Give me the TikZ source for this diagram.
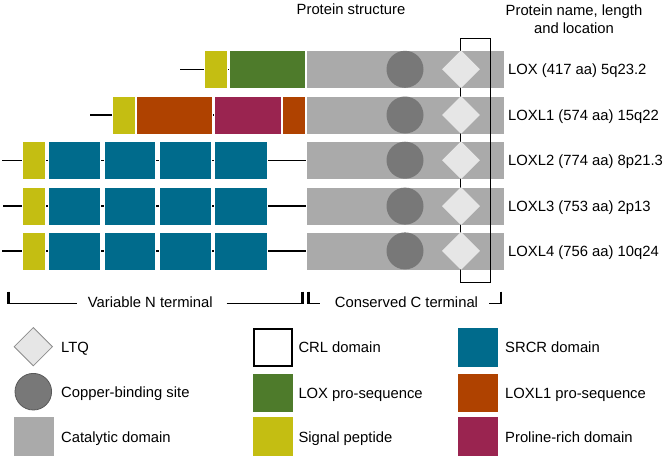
\documentclass[tikz,border=0pt]{standalone}
\usepackage{fontspec}
\setmainfont{Liberation Sans}
\usetikzlibrary{shapes.geometric}
\definecolor{sigY}{RGB}{196,190,18}
\definecolor{loxG}{RGB}{78,123,43}
\definecolor{loxlO}{RGB}{175,66,0}
\definecolor{proM}{RGB}{154,36,80}
\definecolor{srcrT}{RGB}{0,107,140}
\definecolor{catG}{RGB}{170,170,170}
\definecolor{cuG}{RGB}{120,120,120}
\definecolor{ltqG}{RGB}{230,230,230}
\begin{document}
\begin{tikzpicture}[x=1pt,y=-1pt,
  dom/.style={rectangle, inner sep=0pt, minimum height=38pt, draw=white, line width=0.6pt},
  txt/.style={font=\fontsize{14.8}{18}\selectfont, inner sep=0pt, text=black},
  lbl/.style={txt, anchor=base west},
  backbone/.style={line width=1.4pt, black},
  cu/.style={circle, fill=cuG, minimum size=37pt, inner sep=0pt},
  ltq/.style={diamond, fill=ltqG, minimum width=38pt, minimum height=38pt, inner sep=0pt},
  legbox/.style={rectangle, inner sep=0pt, minimum width=40pt, minimum height=38.5pt},
  brk/.style={line width=1.3pt, black},
  tick/.style={line width=2.4pt, black}
]
\useasboundingbox (0,0) rectangle (665,458);

% headers
\node[txt, anchor=base] (hs) at (351,14.5) {Protein structure};
\node[txt, anchor=north, align=center] (hn) at (574,4.4) {Protein name, length\\and location};

% row 1: LOX
\coordinate (s1) at (180,69.3);
\node[dom, fill=catG, minimum width=198pt] (cat1) at (405,69.3) {};
\draw[backbone] (s1) -- (cat1.west);
\node[dom, fill=sigY, minimum width=23pt] (sig1) at (215.5,69.3) {};
\node[dom, fill=loxG, minimum width=76.7pt] (pro1) at (267.4,69.3) {};

% row 2: LOXL1
\coordinate (s2) at (90,115);
\node[dom, fill=catG, minimum width=198pt] (cat2) at (405,115) {};
\draw[backbone] (s2) -- (cat2.west);
\node[dom, fill=sigY, minimum width=22.7pt] (sig2) at (123.7,115) {};
\node[dom, fill=loxlO, minimum width=76.3pt] (proA2) at (174.2,115) {};
\node[dom, fill=proM, minimum width=67pt] (prl2) at (247.5,115) {};
\node[dom, fill=loxlO, minimum width=23.4pt] (proB2) at (294,115) {};

% rows 3-5: LOXL2-4
\foreach \r/\y/\xs/\lw in {3/160.2/2/1.4, 4/206.1/3/1.6, 5/250.9/2/2.4}{
  \coordinate (s\r) at (\xs,\y);
  \node[dom, fill=catG, minimum width=198pt] (cat\r) at (405,\y) {};
  \draw[backbone, line width=\lw pt] (s\r) -- (cat\r.west);
  \node[dom, fill=sigY, minimum width=22.3pt] (sig\r) at (33.9,\y) {};
  \node[dom, fill=srcrT, minimum width=52pt] (sa\r) at (74,\y) {};
  \node[dom, fill=srcrT, minimum width=51pt] (sb\r) at (129.5,\y) {};
  \node[dom, fill=srcrT, minimum width=52pt] (sc\r) at (185,\y) {};
  \node[dom, fill=srcrT, minimum width=53pt] (sd\r) at (240.5,\y) {};
}

% CRL domain frame
\node[draw=black, line width=1.4pt, rectangle, inner sep=0pt, minimum width=30pt, minimum height=244pt] (crl) at (475.7,160.3) {};

% copper sites and LTQ
\foreach \r/\y in {1/69.3, 2/115, 3/160.2, 4/206.1, 5/250.9}{
  \node[cu] (cu\r) at (405,\y) {};
  \node[ltq] (ltq\r) at (461,\y) {};
}

% row labels
\node[lbl] (n1) at (508,74.8) {LOX (417 aa) 5q23.2};
\node[lbl] (n2) at (508,120.5) {LOXL1 (574 aa) 15q22};
\node[lbl] (n3) at (508,165.7) {LOXL2 (774 aa) 8p21.3};
\node[lbl] (n4) at (508,211.6) {LOXL3 (753 aa) 2p13};
\node[lbl] (n5) at (508,256.4) {LOXL4 (756 aa) 10q24};

% terminal brackets
\node[txt] (vnt) at (150.3,302) {Variable N terminal};
\node[txt] (cct) at (406.5,302) {Conserved C terminal};
\coordinate (la) at (8.3,291.7);
\coordinate (la2) at (8.3,304);
\coordinate (lb) at (76.7,303.3);
\coordinate (lc) at (226.7,303.3);
\coordinate (ld) at (302.5,291.7);
\coordinate (ld2) at (302.5,304);
\coordinate (ra) at (308.5,291.7);
\coordinate (ra2) at (308.5,304);
\coordinate (rb) at (320,303.3);
\coordinate (rc) at (489.3,303.3);
\coordinate (rd) at (500.7,291.7);
\coordinate (rd2) at (500.7,304);
\draw[brk] (la) |- (lb);
\draw[brk] (lc) -| (ld);
\draw[brk] (ra) |- (rb);
\draw[brk] (rc) -| (rd);
\draw[tick] (la) -- (la2);
\draw[tick] (ld) -- (ld2);
\draw[tick] (ra) -- (ra2);
\draw[tick] (rd) -- (rd2);

% legend column 1
\node[ltq, draw=black!45, line width=0.8pt, minimum width=38.6pt, minimum height=38.6pt] (kltq) at (33.3,346.7) {};
\node[circle, fill=cuG, draw=black!65, line width=0.8pt, minimum size=36.6pt, inner sep=0pt] (kcu) at (33.3,391.7) {};
\node[legbox, fill=catG] (kcat) at (34.2,436.7) {};
\node[lbl] (tltq) at (61,352) {LTQ};
\node[lbl] (tcu) at (61,397) {Copper-binding site};
\node[lbl] (tcat) at (61,442) {Catalytic domain};

% legend column 2
\node[rectangle, draw=black, line width=2pt, inner sep=0pt, minimum width=37.4pt, minimum height=36.4pt] (kcrl) at (273,347.5) {};
\node[legbox, fill=loxG, minimum width=39.7pt, minimum height=37.4pt] (klox) at (273.2,393) {};
\node[legbox, fill=sigY, minimum width=39.7pt] (ksig) at (273.2,436.7) {};
\node[lbl] (tcrl) at (298.3,352.8) {CRL domain};
\node[lbl] (tlox) at (298.3,398.3) {LOX pro-sequence};
\node[lbl] (tsig) at (298.3,442) {Signal peptide};

% legend column 3
\node[legbox, fill=srcrT] (ksrcr) at (478,347.5) {};
\node[legbox, fill=loxlO] (kloxl) at (478,393) {};
\node[legbox, fill=proM] (kpro) at (478,436.7) {};
\node[lbl] (tsrcr) at (505,352.8) {SRCR domain};
\node[lbl] (tloxl) at (505,398.3) {LOXL1 pro-sequence};
\node[lbl] (tpro) at (505,442) {Proline-rich domain};
\end{tikzpicture}
\end{document}
